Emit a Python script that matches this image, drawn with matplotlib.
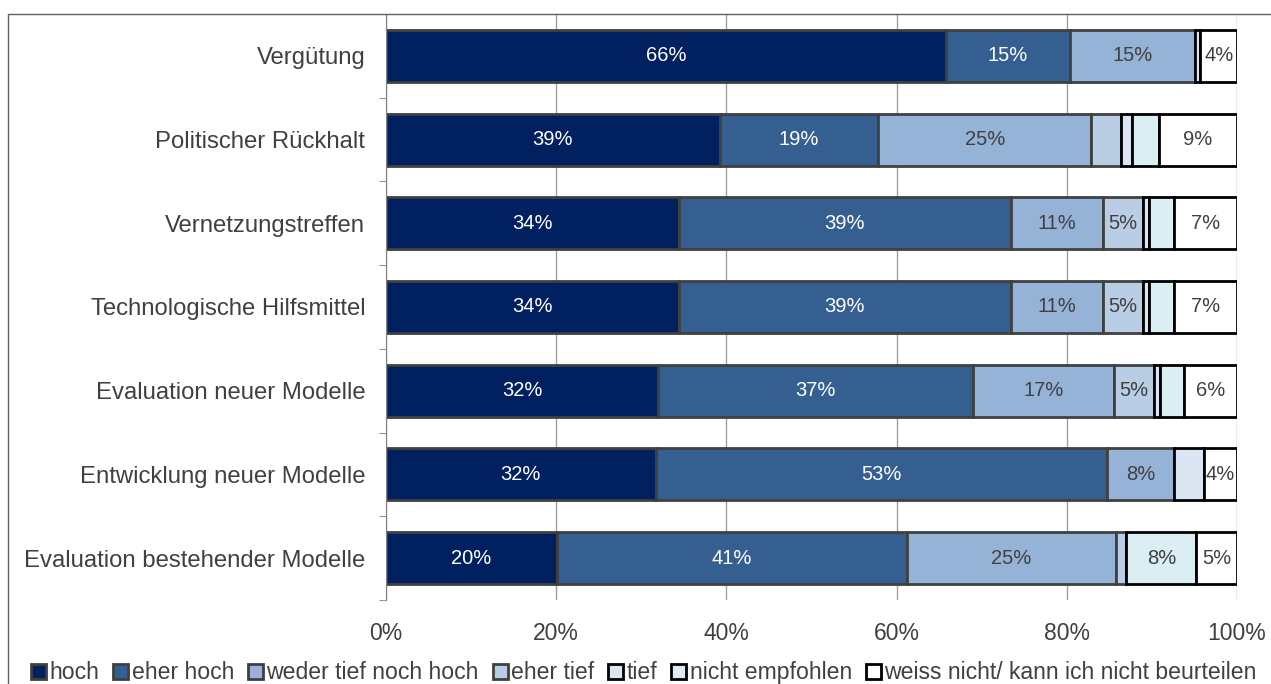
import numpy as np
import matplotlib.pyplot as plt
from matplotlib.patches import Rectangle

plt.rcParams['font.family'] = ['Liberation Sans', 'DejaVu Sans']

categories = ['Vergütung', 'Politischer Rückhalt', 'Vernetzungstreffen',
              'Technologische Hilfsmittel', 'Evaluation neuer Modelle',
              'Entwicklung neuer Modelle', 'Evaluation bestehender Modelle']
series = ['hoch', 'eher hoch', 'weder tief noch hoch', 'eher tief', 'tief',
          'nicht empfohlen', 'weiss nicht/ kann ich nicht beurteilen']

# shares in percent, one list per answer, in category order
hoch = [65.8, 39.2, 34.4, 34.4, 32.0, 31.7, 20.1]
eher_hoch = [14.6, 18.6, 39.0, 39.0, 37.0, 53.0, 41.1]
weder = [14.7, 25.1, 10.8, 10.8, 16.6, 7.9, 24.6]
eher_tief = [0.0, 3.5, 4.8, 4.8, 4.6, 0.0, 1.2]
tief = [0.6, 1.3, 0.7, 0.7, 0.7, 3.5, 0.0]
nicht_empf = [0.0, 3.1, 2.9, 2.9, 2.9, 0.0, 8.2]
weiss_nicht = [4.3, 9.2, 7.4, 7.4, 6.2, 3.9, 4.8]

data = [hoch, eher_hoch, weder, eher_tief, tief, nicht_empf, weiss_nicht]
colors = ['#002060', '#365F91', '#95B3D7', '#B9CDE5', '#DCE6F2', '#DAEEF3', '#FFFFFF']
edges = ['#404040', '#404040', '#404040', '#404040', '#000000', '#000000', '#000000']
txt_colors = ['white', 'white', '#404040', '#404040', '#404040', '#404040', '#404040']

fig = plt.figure(figsize=(12.71, 6.84), dpi=100)
ax = fig.add_axes([386 / 1271, 1 - 600 / 684, (1237 - 386) / 1271, (600 - 14) / 684])

y = np.arange(len(categories))
left = np.zeros(len(categories))
handles = []
for vals, name, c, ec, tc in zip(data, series, colors, edges, txt_colors):
    vals = np.array(vals)
    bars = ax.barh(y, vals, left=left, height=0.62, color=c, edgecolor=ec,
                   linewidth=2, zorder=3, label=name)
    handles.append(bars)
    # only segments of about 4% and more carry a label
    for yi, v, l in zip(y, vals, left):
        if v >= 3.6:
            ax.text(l + v / 2, yi, f'{v:.0f}%', ha='center', va='center',
                    color=tc, fontsize=14.5, zorder=4)
    left += vals

ax.set_xlim(0, 100)
ax.set_ylim(len(categories) - 0.5, -0.5)
ax.set_xticks(np.arange(0, 101, 20))
ax.set_xticklabels([f'{t}%' for t in range(0, 101, 20)])
ax.set_yticks(y)
ax.set_yticklabels(categories)
ax.set_yticks(np.arange(-0.5, len(categories), 1), minor=True)
ax.tick_params(axis='y', which='major', length=0, pad=15, labelsize=17.2, labelcolor='#404040')
ax.tick_params(axis='y', which='minor', length=5, color='#808080', direction='out')
ax.tick_params(axis='x', length=0, pad=16, labelsize=16.5, labelcolor='#404040')
ax.grid(axis='x', color='#A0A0A0', linewidth=1, zorder=0)
for s in ['top', 'right', 'bottom']:
    ax.spines[s].set_visible(False)
ax.spines['left'].set_color('#808080')
ax.spines['left'].set_zorder(5)

# outer chart frame
fig.patches.append(Rectangle((8 / 1271, -0.1), 1.2, (684 - 14) / 684 + 0.1,
                             transform=fig.transFigure, fill=False,
                             edgecolor='#606060', linewidth=1))

fig.legend(handles=handles, loc='lower left', bbox_to_anchor=(22 / 1271, -0.014),
           ncol=7, frameon=False, fontsize=16.6, handlelength=0.65, handleheight=0.65,
           handletextpad=0.15, columnspacing=0.6, borderaxespad=0, labelcolor='#404040')

fig.savefig('out.png', dpi=100)
